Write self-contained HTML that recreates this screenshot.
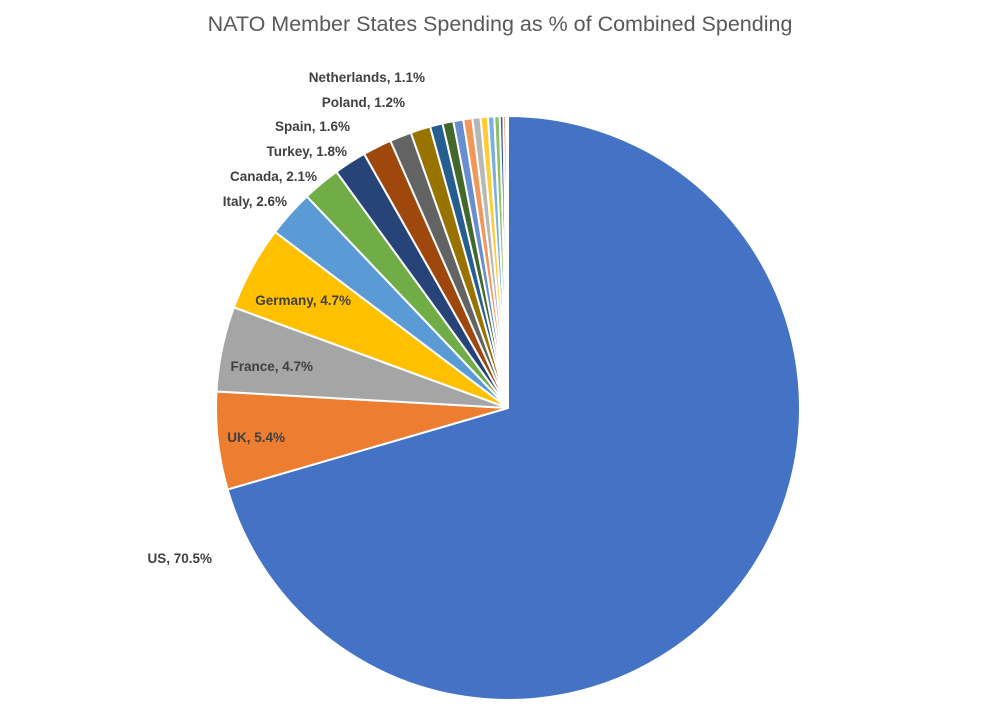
<!DOCTYPE html>
<html><head><meta charset="utf-8"><style>
body{margin:0;background:#fff;width:1000px;height:707px;overflow:hidden}
svg text{font-family:"Liberation Sans",sans-serif}
</style></head><body>
<svg id="s" width="1000" height="707" xmlns="http://www.w3.org/2000/svg">
<text x="500" y="31" text-anchor="middle" font-size="21.5" fill="#595959">NATO Member States Spending as % of Combined Spending</text>
<g id="pie"></g>
<g font-size="13.5" font-weight="bold" fill="#404040" text-anchor="end">
<text x="425" y="82">Netherlands, 1.1%</text>
<text x="405" y="107">Poland, 1.2%</text>
<text x="350" y="131">Spain, 1.6%</text>
<text x="347" y="156">Turkey, 1.8%</text>
<text x="317" y="181">Canada, 2.1%</text>
<text x="287" y="206">Italy, 2.6%</text>
<text x="351" y="305">Germany, 4.7%</text>
<text x="313" y="371">France, 4.7%</text>
<text x="285" y="442">UK, 5.4%</text>
<text x="212" y="563">US, 70.5%</text>
</g>
</svg>
<script>
var d=[[70.5,"#4472C4"],[5.4,"#ED7D31"],[4.7,"#A5A5A5"],[4.7,"#FFC000"],[2.6,"#5B9BD5"],[2.1,"#70AD47"],[1.8,"#264478"],[1.6,"#9E480E"],[1.2,"#636363"],[1.1,"#997300"],[0.7,"#255E91"],[0.6,"#43682B"],[0.55,"#698ED0"],[0.5,"#F1975A"],[0.45,"#B7B7B7"],[0.4,"#FFCD33"],[0.35,"#7CAFDD"],[0.3,"#8CC168"],[0.2,"#335AA1"],[0.15,"#D26012"],[0.1,"#848484"]];
var cx=508,cy=408,r=292,a=0,h="",tot=0;d.forEach(function(x){tot+=x[0]});
d.forEach(function(x){var a2=a+x[0]/tot*2*Math.PI;
var x1=cx+r*Math.sin(a),y1=cy-r*Math.cos(a),x2=cx+r*Math.sin(a2),y2=cy-r*Math.cos(a2);
h+='<path d="M'+cx+','+cy+'L'+x1+','+y1+'A'+r+','+r+' 0 '+((a2-a)>Math.PI?1:0)+' 1 '+x2+','+y2+'Z" fill="'+x[1]+'" stroke="#fff" stroke-width="2"/>';a=a2;});
document.getElementById("pie").innerHTML=h;
</script>
</body></html>
